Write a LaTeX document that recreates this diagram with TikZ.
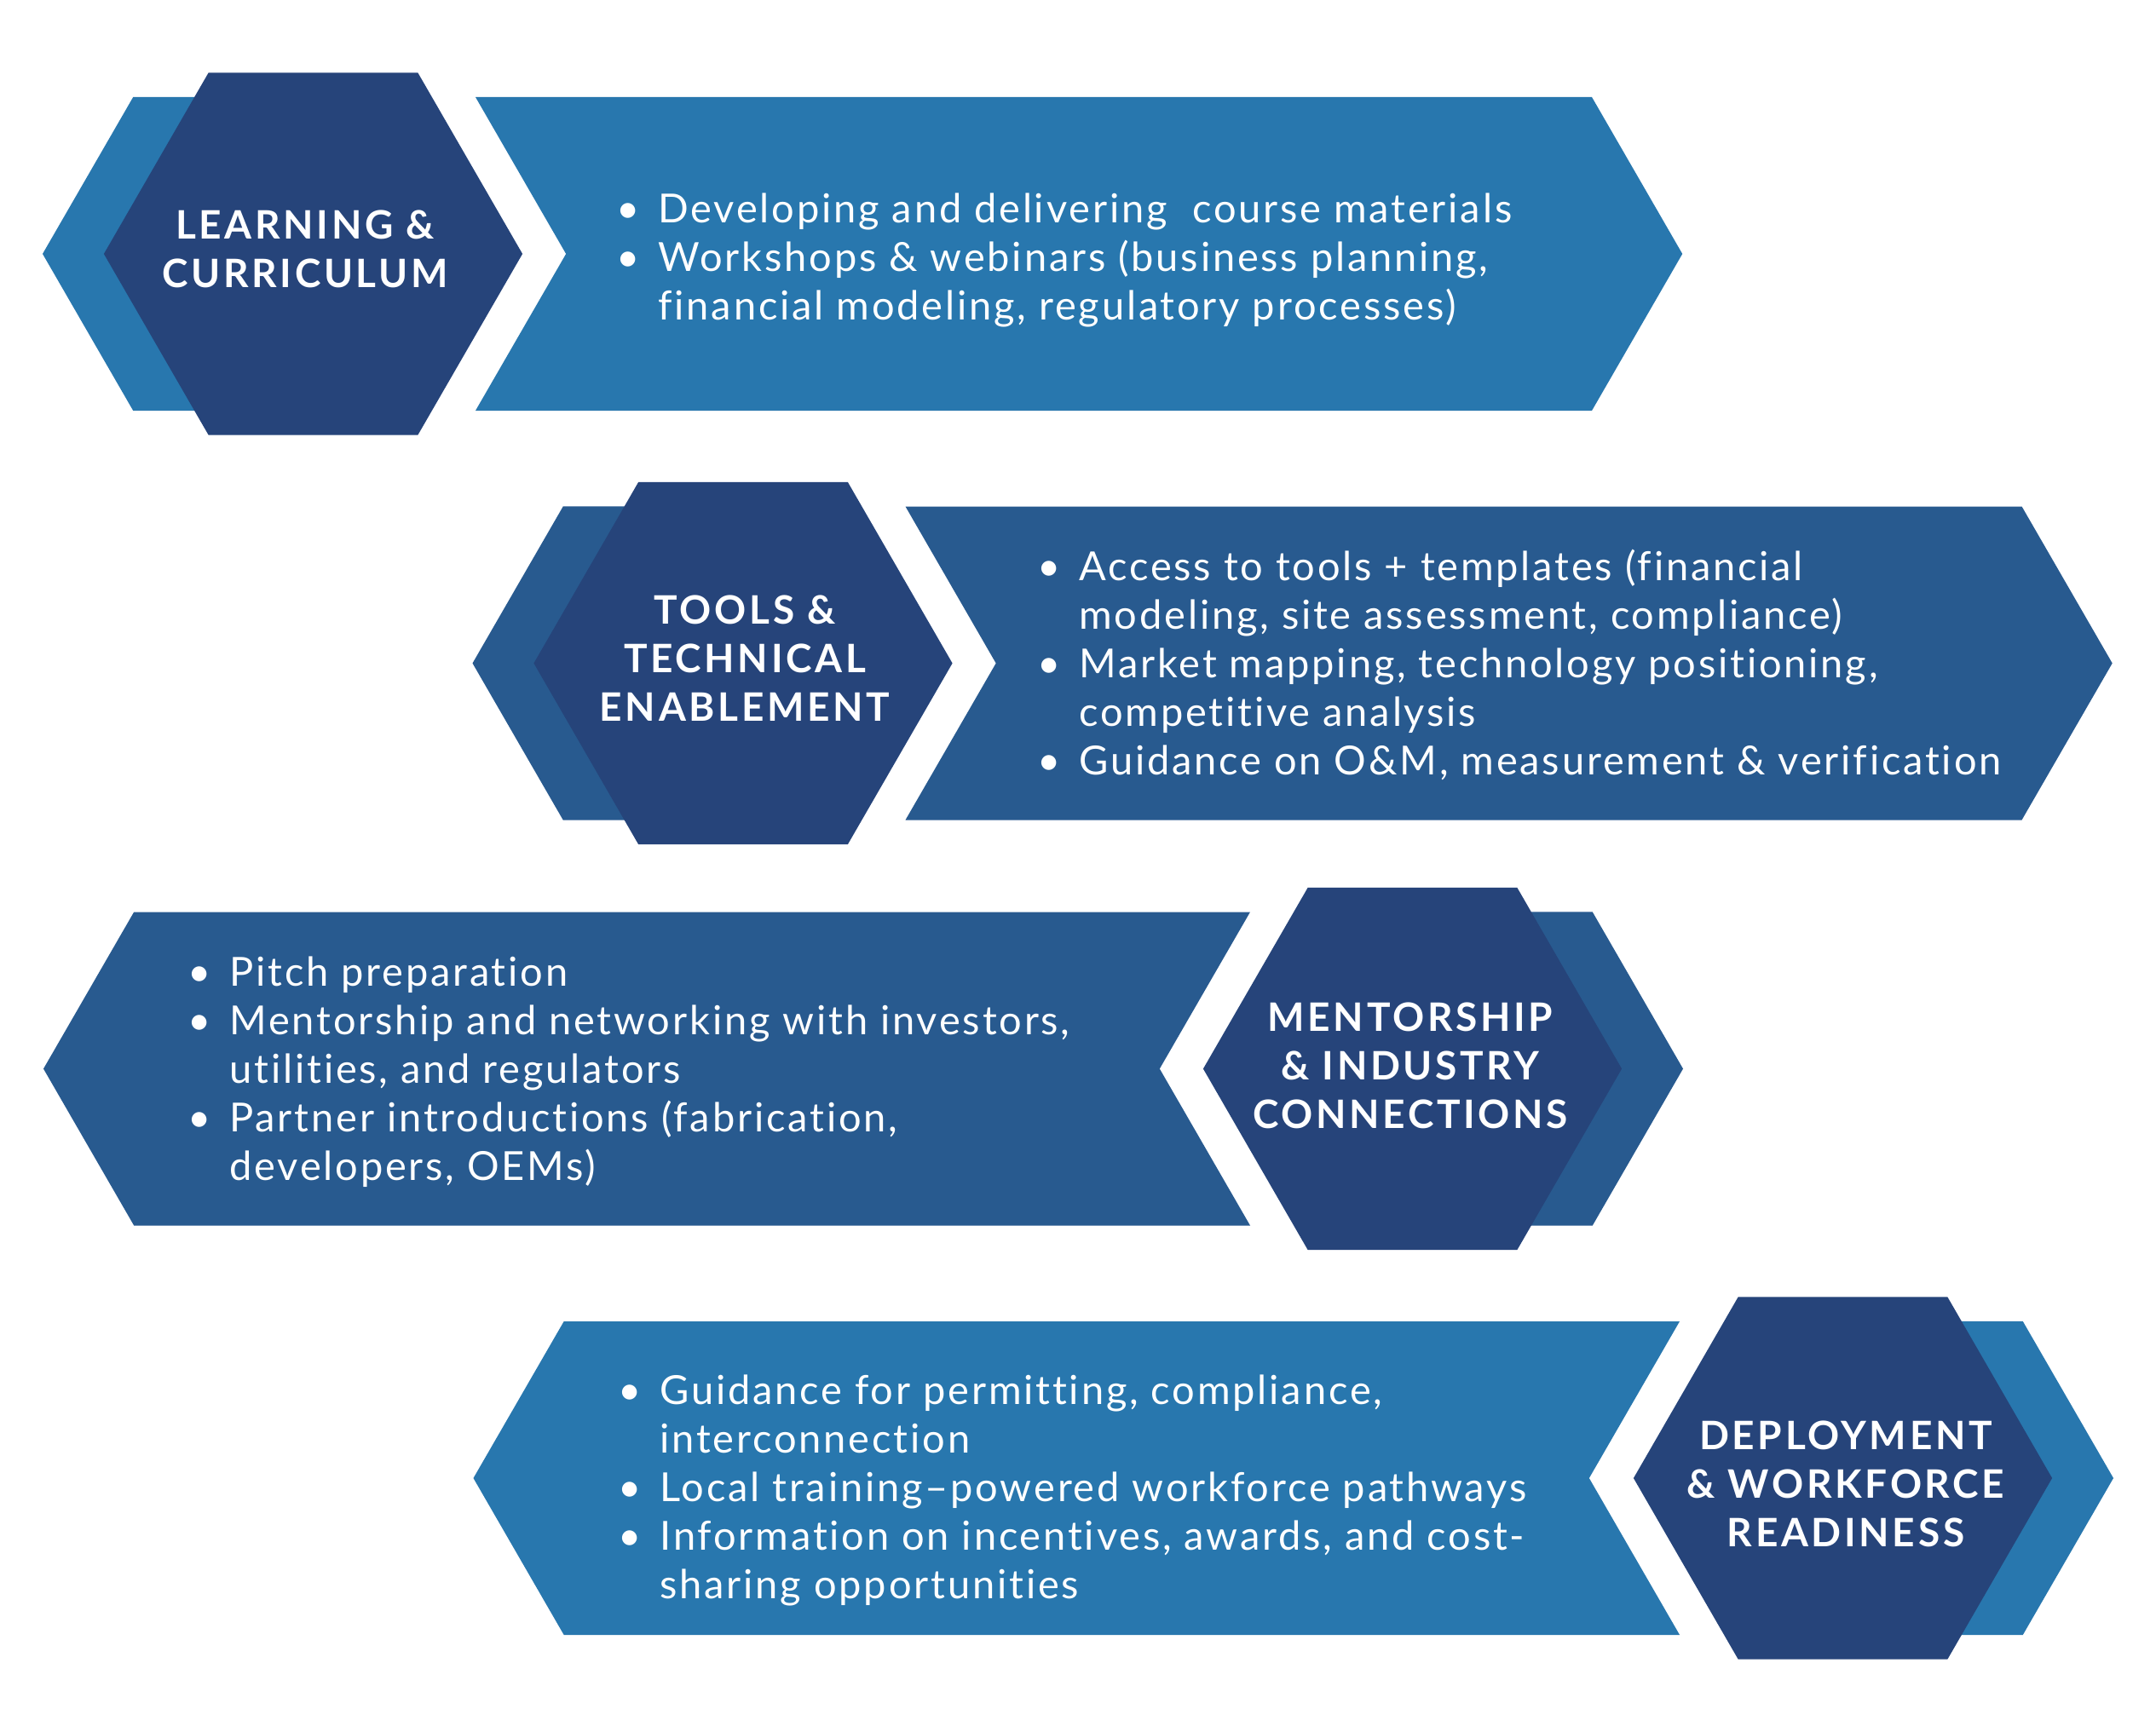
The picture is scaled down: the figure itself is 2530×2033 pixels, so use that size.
\documentclass[tikz,border=0pt]{standalone}
\usepackage{fontspec}
\setmainfont{Lato}[LetterSpace=6,Ligatures=NoCommon]
\newfontfamily\titlefont{Lato}[LetterSpace=8]
\definecolor{lightblue}{HTML}{2877AE}
\definecolor{midblue}{HTML}{285A8F}
\definecolor{darkblue}{HTML}{26447A}
\tikzset{
  bodytext/.style={anchor=west,text=white,inner sep=0pt,font=\fontsize{47}{57}\selectfont},
  titletext/.style={text=white,align=center,inner sep=0pt,font=\titlefont\bfseries\fontsize{46}{57}\selectfont},
}
% hexagon: colour, centre, radius
\newcommand{\hexa}[3]{\fill[#1] (#2) +(0:#3) -- +(60:#3) -- +(120:#3) -- +(180:#3) -- +(240:#3) -- +(300:#3) -- cycle;}
% banner pointing right: colour, left x, right x, centre y
\newcommand{\bannerright}[4]{\fill[#1] (#2,#4-184) -- (#3,#4-184) -- (#3+106.2,#4) -- (#3,#4+184) -- (#2,#4+184) -- (#2+106.2,#4) -- cycle;}
% banner pointing left: colour, tip x, right x, centre y
\newcommand{\bannerleft}[4]{\fill[#1] (#2,#4) -- (#2+106.2,#4-184) -- (#3,#4-184) -- (#3-106.2,#4) -- (#3,#4+184) -- (#2+106.2,#4+184) -- cycle;}
\begin{document}
\begin{tikzpicture}[x=1pt,y=-1pt]
\fill[white] (0,0) rectangle (2530,2033);
\useasboundingbox (0,0) rectangle (2530,2033);
\coordinate (K1) at (262.5,298);
\coordinate (H1) at (367.5,298);
\coordinate (K2) at (767,778.5);
\coordinate (H2) at (872,778.5);
\coordinate (K3) at (1762.5,1254.5);
\coordinate (H3) at (1657.5,1254.5);
\coordinate (K4) at (2267.5,1735);
\coordinate (H4) at (2162.5,1735);
% row 1
\hexa{lightblue}{K1}{212.5}
\bannerright{lightblue}{558}{1868}{298}
\hexa{darkblue}{H1}{245.6}
\node[titletext] (T1) at (358,292) {LEARNING \&\\CURRICULUM};
\node[bodytext] (B1) at (723,307) {\begin{tabular}{@{}l@{\hspace{22pt}}l@{}}
\textbullet & Developing and delivering~ course materials\\
\textbullet & Workshops \& webinars (business planning,\\
 & financial modeling, regulatory processes)
\end{tabular}};
% row 2
\hexa{midblue}{K2}{212.5}
\bannerright{midblue}{1062.5}{2372.5}{778.5}
\hexa{darkblue}{H2}{245.6}
\node[titletext] (T2) at (874,773) {TOOLS \&\\TECHNICAL\\ENABLEMENT};
\node[bodytext] (B2) at (1217,784) {\begin{tabular}{@{}l@{\hspace{22pt}}l@{}}
\textbullet & Access to tools + templates (financial\\
 & modeling, site assessment, compliance)\\
\textbullet & Market mapping, technology positioning,\\
 & competitive analysis\\
\textbullet & Guidance on O\&M, measurement \& verification
\end{tabular}};
% row 3
\hexa{midblue}{K3}{212.5}
\bannerleft{midblue}{51}{1467}{1254.5}
\hexa{darkblue}{H3}{245.6}
\node[titletext] (T3) at (1655,1251) {MENTORSHIP\\\& INDUSTRY\\CONNECTIONS};
\node[bodytext] (B3) at (220,1260) {\begin{tabular}{@{}l@{\hspace{22pt}}l@{}}
\textbullet & Pitch preparation\\
\textbullet & Mentorship and networking with investors,\\
 & utilities, and regulators\\
\textbullet & Partner introductions (fabrication,\\
 & developers, OEMs)
\end{tabular}};
% row 4
\hexa{lightblue}{K4}{212.5}
\bannerleft{lightblue}{555.5}{1971}{1735}
\hexa{darkblue}{H4}{245.6}
\node[titletext] (T4) at (2166,1742) {DEPLOYMENT\\\& WORKFORCE\\READINESS};
\node[bodytext] (B4) at (725,1751) {\begin{tabular}{@{}l@{\hspace{22pt}}l@{}}
\textbullet & Guidance for permitting, compliance,\\
 & interconnection\\
\textbullet & Local training–powered workforce pathways\\
\textbullet & Information on incentives, awards, and cost-\\
 & sharing opportunities
\end{tabular}};
\end{tikzpicture}
\end{document}
